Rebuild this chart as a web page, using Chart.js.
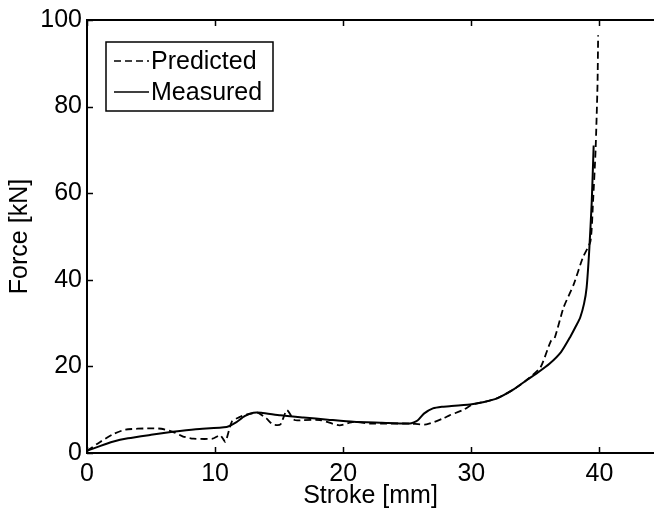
<!DOCTYPE html>
<html>
<head>
<meta charset="utf-8">
<script src="https://cdn.jsdelivr.net/npm/chart.js@4"></script>
<style>
  html, body { margin: 0; padding: 0; background: #fff; overflow: hidden; }
</style>
</head>
<body>
<canvas id="myChart" width="654" height="513"></canvas>
<script>
// stroke [mm] / force [kN]
const predStroke = [0,1,2,3,4.9,5.8,6.7,7.5,8.3,9.8,10.4,10.8,11.3,11.9,12.6,13.3,14.0,14.5,15.1,15.6,16.2,16.9,18.2,19.7,20.8,22.1,23.4,25.2,26.5,27.8,28.3,29.4,30.1,31,32,33.2,34.3,35.4,36.2,36.5,37.2,38.0,38.7,39.3,39.5,39.7,39.85,39.9];
const predForce  = [0.5,2.5,4.3,5.4,5.7,5.6,4.9,3.8,3.3,3.3,4.1,2.6,7.2,8.3,9.0,9.3,8.0,6.6,6.6,9.9,7.6,7.6,7.6,6.4,7.2,6.8,6.8,6.8,6.6,8.0,8.7,10.0,11.2,11.8,12.6,14.5,16.8,19.8,25.8,26.5,33.6,39.0,45.1,48.9,58,70,85,96.5];

const measStroke = [0,1,2,3.2,5,6.7,8.5,10.9,11.6,12.3,13.0,13.6,15.1,16.9,18.8,20.8,23,25.2,25.8,26.3,27.0,27.7,28.3,29.9,31,32.0,33.2,34.3,35.2,36.1,37.0,37.7,38.2,38.5,38.8,39.0,39.2,39.4,39.55];
const measForce  = [0.5,1.6,2.6,3.4,4.2,4.9,5.5,6.0,7.0,8.5,9.3,9.3,8.7,8.2,7.7,7.2,7.0,6.8,7.5,9.1,10.3,10.7,10.8,11.2,11.8,12.6,14.5,16.8,18.6,20.6,23.3,26.7,29.5,31.3,34.5,38.2,46.6,58,71];

const xTicks = [0,10,20,30,40];
const yTicks = [0,20,40,60,80,100];

const FONT = "'Liberation Sans', Arial, sans-serif";

function toPoints(xs, ys) {
  return xs.map((x, i) => ({x: x, y: ys[i]}));
}

// MATLAB style: inward ticks, top frame line, boxed legend
const matlabFrame = {
  id: 'matlabFrame',
  afterDraw(chart) {
    const ctx = chart.ctx;
    const a = chart.chartArea;
    const sx = chart.scales.x, sy = chart.scales.y;
    ctx.save();
    ctx.strokeStyle = '#000';
    ctx.lineWidth = 2;
    ctx.beginPath();
    ctx.moveTo(a.left, a.top);
    ctx.lineTo(a.right, a.top);
    ctx.stroke();
    ctx.lineWidth = 1.5;
    ctx.beginPath();
    xTicks.forEach(v => {
      const px = Math.round(sx.getPixelForValue(v)) + 0.5;
      ctx.moveTo(px, a.bottom); ctx.lineTo(px, a.bottom - 6);
      ctx.moveTo(px, a.top); ctx.lineTo(px, a.top + 6);
    });
    yTicks.forEach(v => {
      const py = Math.round(sy.getPixelForValue(v)) + 0.5;
      ctx.moveTo(a.left, py); ctx.lineTo(a.left + 6, py);
    });
    ctx.stroke();

    // legend
    const bx = 106, by = 42, bw = 167, bh = 69;
    ctx.fillStyle = '#fff';
    ctx.fillRect(bx, by, bw, bh);
    ctx.lineWidth = 1.5;
    ctx.strokeRect(bx, by, bw, bh);
    const rows = [61, 92];
    chart.data.datasets.forEach((ds, i) => {
      ctx.lineWidth = 1.5;
      ctx.setLineDash(ds.borderDash || []);
      ctx.beginPath();
      ctx.moveTo(114, rows[i]);
      ctx.lineTo(149, rows[i]);
      ctx.stroke();
      ctx.setLineDash([]);
      ctx.fillStyle = '#000';
      ctx.font = '25px ' + FONT;
      ctx.textBaseline = 'middle';
      ctx.textAlign = 'left';
      ctx.fillText(ds.label, 151, rows[i] + 1);
    });
    ctx.restore();
  }
};

new Chart("myChart", {
  type: "line",
  data: {
    datasets: [{
      label: "Predicted",
      data: toPoints(predStroke, predForce),
      borderColor: "#000",
      borderWidth: 1.8,
      borderDash: [7, 4],
      pointRadius: 0,
      tension: 0.2,
      fill: false
    },{
      label: "Measured",
      data: toPoints(measStroke, measForce),
      borderColor: "#000",
      borderWidth: 2,
      pointRadius: 0,
      tension: 0.2,
      fill: false
    }]
  },
  options: {
    responsive: false,
    animation: false,
    layout: {padding: {top: 18, right: 0, left: 0, bottom: 0}},
    plugins: {
      legend: {display: false},
      tooltip: {enabled: false}
    },
    scales: {
      x: {
        type: "linear",
        min: 0,
        max: 44.26,
        grid: {display: false, drawTicks: false},
        border: {display: true, color: "#000", width: 2},
        ticks: {stepSize: 10, includeBounds: false, color: "#000", padding: 6,
                font: {family: FONT, size: 25}, maxRotation: 0},
        title: {display: true, text: "Stroke [mm]", color: "#000",
                font: {family: FONT, size: 25}, padding: {top: 0, bottom: 2}},
        afterFit(scale) { scale.height = 60; }
      },
      y: {
        min: 0,
        max: 100,
        grid: {display: false, drawTicks: false},
        border: {display: true, color: "#000", width: 2},
        ticks: {stepSize: 20, color: "#000", padding: 5,
                font: {family: FONT, size: 25}},
        title: {display: true, text: "Force [kN]", color: "#000",
                font: {family: FONT, size: 25}, padding: {top: 5, bottom: 0}},
        afterFit(scale) { scale.width = 87; }
      }
    }
  },
  plugins: [matlabFrame]
});
</script>
</body>
</html>
